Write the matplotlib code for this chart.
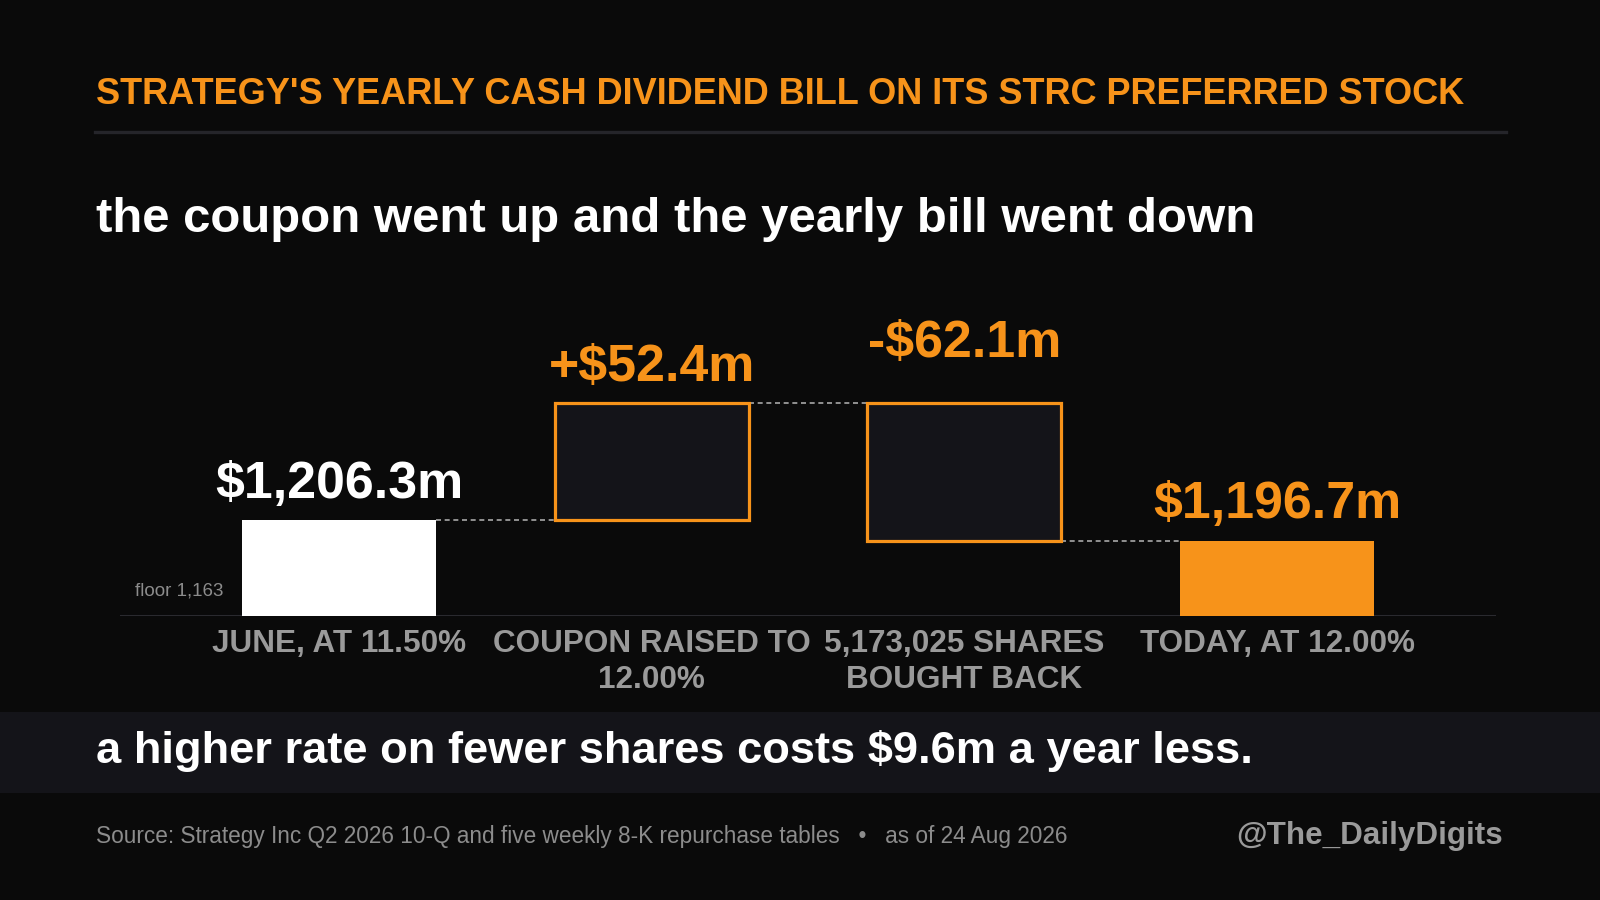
import matplotlib
matplotlib.use("Agg")
import matplotlib.pyplot as plt
from matplotlib.patches import Rectangle
import matplotlib.transforms as mtransforms

plt.rcParams['font.family'] = ['Liberation Sans', 'DejaVu Sans']

# ---- data ----
categories = ["JUNE, AT 11.50%", "COUPON RAISED TO\n12.00%",
              "5,173,025 SHARES\nBOUGHT BACK", "TODAY, AT 12.00%"]
start_value = 1206.3
changes = [52.4, -62.1]
end_value = 1196.7
value_labels = ["$1,206.3m", "+$52.4m", "-$62.1m", "$1,196.7m"]
floor_value = 1163

title = "STRATEGY'S YEARLY CASH DIVIDEND BILL ON ITS STRC PREFERRED STOCK"
subtitle = "the coupon went up and the yearly bill went down"
takeaway = "a higher rate on fewer shares costs $9.6m a year less."
source = "Source: Strategy Inc Q2 2026 10-Q and five weekly 8-K repurchase tables   \u2022   as of 24 Aug 2026"
handle = "@The_DailyDigits"

# ---- style ----
BG = "#0a0a0a"
PANEL = "#141419"
ORANGE = "#f7931a"
WHITE = "#ffffff"
GRAY = "#9a9a9a"
FOOT = "#8c8c8c"
CONN = "#a8a8a8"
AXLINE = "#2a2a2f"

W, H = 1600, 900
fig = plt.figure(figsize=(16, 9), dpi=100, facecolor=BG)

def fx(px):
    return px / W

def fy(py):
    return 1 - py / H

# title + separator
fig.text(fx(96), fy(104), title, color=ORANGE, fontsize=26, fontweight='bold',
         ha='left', va='baseline')
fig.add_artist(plt.Line2D([fx(95), fx(1506)], [fy(131.5), fy(131.5)],
                          color="#25252a", lw=2.4, transform=fig.transFigure))
fig.text(fx(96), fy(232), subtitle, color=WHITE, fontsize=35.4, fontweight='bold',
         ha='left', va='baseline')

# takeaway band
fig.add_artist(Rectangle((0, fy(793)), 1, (793 - 712) / H, transform=fig.transFigure,
                         facecolor=PANEL, edgecolor='none', zorder=0))
fig.text(fx(96), fy(763), takeaway, color=WHITE, fontsize=32.6, fontweight='bold',
         ha='left', va='baseline')

# footer
fig.text(fx(96), fy(843), source, color=FOOT, fontsize=16.3, ha='left', va='baseline')
fig.text(fx(1503), fy(844), handle, color=GRAY, fontsize=22.6, fontweight='bold',
         ha='right', va='baseline')

# ---- chart ----
ax = fig.add_axes([fx(120), fy(616), fx(1496) - fx(120), (616 - 300) / H])
ax.set_facecolor('none')
ax.set_xlim(-0.7, 3.7)
ax.set_ylim(floor_value, floor_value + 142)
for s in ax.spines.values():
    s.set_visible(False)
ax.set_yticks([])
ax.axhline(floor_value, color=AXLINE, lw=2.2, zorder=1)

bw = 0.62
# waterfall levels
levels = [start_value]
for c in changes:
    levels.append(levels[-1] + c)

# bar 1 (start)
ax.bar(0, start_value - floor_value, bottom=floor_value, width=bw,
       color=WHITE, zorder=3)
# change boxes
for i, c in enumerate(changes):
    lo = min(levels[i], levels[i + 1])
    ax.bar(i + 1, abs(c), bottom=lo, width=bw, facecolor=PANEL,
           edgecolor=ORANGE, linewidth=2.3, zorder=3)
# end bar
ax.bar(3, end_value - floor_value, bottom=floor_value, width=bw,
       color=ORANGE, zorder=3)

# connectors
conn_levels = [levels[0], levels[1], levels[2]]
for i, lv in enumerate(conn_levels):
    ax.plot([i + bw / 2, i + 1 - bw / 2], [lv, lv], color=CONN, lw=1.2,
            linestyle=(0, (3, 2.2)), zorder=2)

# value labels
tops = [start_value, max(levels[0], levels[1]), max(levels[1], levels[2]), end_value]
offsets_pt = [15.5, 15.8, 33.0, 16.5]
colors = [WHITE, ORANGE, ORANGE, ORANGE]
for i, (lab, top, off, col) in enumerate(zip(value_labels, tops, offsets_pt, colors)):
    tr = ax.transData + mtransforms.ScaledTranslation(0, off / 72, fig.dpi_scale_trans)
    ax.text(i, top, lab, transform=tr, color=col, fontsize=37.4, fontweight='bold',
            ha='center', va='baseline', zorder=4)

# floor note
ax.text(fx(223), fy(595), f"floor {floor_value:,}", transform=fig.transFigure,
        color=FOOT, fontsize=13.5, ha='right', va='baseline')

# category labels
ax.set_xticks(range(len(categories)))
ax.set_xticklabels(categories, fontsize=22.7, fontweight='bold', color=GRAY,
                   linespacing=1.25)
ax.tick_params(axis='x', length=0, pad=9.5)

fig.savefig("out.png", dpi=100, facecolor=BG)
